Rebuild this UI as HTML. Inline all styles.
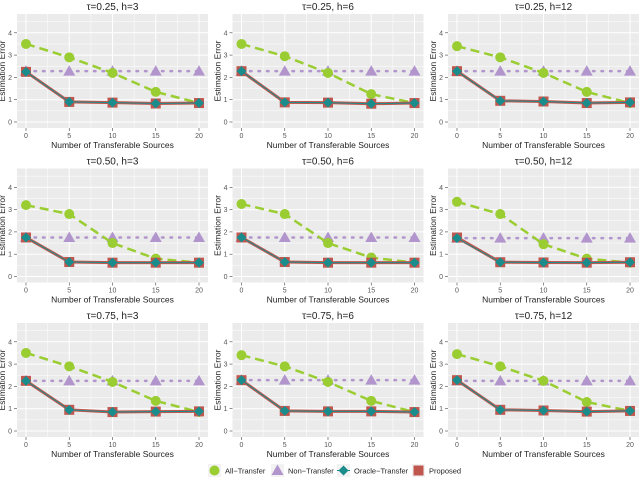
<!DOCTYPE html>
<html><head><meta charset="utf-8"><style>
body{margin:0;background:#fff;width:640px;height:479px;overflow:hidden;font-family:"Liberation Sans",sans-serif}
</style></head><body>
<svg id="c" width="640" height="479" xmlns="http://www.w3.org/2000/svg"></svg>
<script>
const xs=[0,5,10,15,20];
const titles=["τ=0.25, h=3","τ=0.25, h=6","τ=0.25, h=12","τ=0.50, h=3","τ=0.50, h=6","τ=0.50, h=12","τ=0.75, h=3","τ=0.75, h=6","τ=0.75, h=12"];
const allT=[[3.5,2.9,2.2,1.35,0.85],[3.5,2.95,2.2,1.25,0.85],[3.4,2.9,2.2,1.35,0.85],
[3.2,2.8,1.5,0.8,0.62],[3.25,2.8,1.5,0.85,0.62],[3.35,2.8,1.45,0.8,0.62],
[3.5,2.9,2.2,1.35,0.85],[3.4,2.9,2.2,1.35,0.85],[3.45,2.9,2.25,1.3,0.9]];
const nonT=[2.28,2.28,2.28,1.75,1.75,1.72,2.25,2.28,2.25];
const oracle=[[2.25,0.9,0.87,0.83,0.85],[2.28,0.88,0.87,0.82,0.85],[2.28,0.95,0.92,0.85,0.88],
[1.75,0.65,0.62,0.62,0.62],[1.75,0.65,0.62,0.62,0.62],[1.72,0.64,0.63,0.62,0.64],
[2.25,0.95,0.85,0.87,0.88],[2.28,0.9,0.88,0.88,0.85],[2.28,0.95,0.92,0.87,0.9]];
const proposed=[[2.25,0.9,0.87,0.83,0.85],[2.28,0.88,0.87,0.82,0.85],[2.28,0.95,0.92,0.85,0.88],
[1.75,0.65,0.62,0.62,0.62],[1.75,0.65,0.62,0.62,0.62],[1.75,0.64,0.63,0.62,0.64],
[2.25,0.95,0.85,0.87,0.88],[2.28,0.9,0.88,0.88,0.85],[2.28,0.95,0.92,0.87,0.9]];
const yTicks=[0,1,2,3,4];
const svg=document.getElementById('c');
const NS='http://www.w3.org/2000/svg';
function mk(t,a,p){const e=document.createElementNS(NS,t);for(const k in a)e.setAttribute(k,a[k]);(p||svg).appendChild(e);return e;}
const G='#9ACD32',P='#B195CC',O='#1A8C8C',R='#C0574E';
for(let i=0;i<9;i++){
 const col=i%3,row=Math.floor(i/3);
 const ox=col*215.5, oy=row*154.5;
 const L=17+ox,Rr=208+ox,T=14+oy,B=128+oy;
 const X=v=>26+ox+v*(173/20);
 const Y=v=>122+oy-v*22.3;
 const g=mk('g',{});
 
 
 mk('rect',{x:L,y:T,width:Rr-L,height:B-T,fill:'#EBEBEB'},g);
 for(let v=0.5;v<4.8;v+=1)mk('line',{x1:L,x2:Rr,y1:Y(v),y2:Y(v),stroke:'#fff','stroke-width':0.5},g);
 for(let v=2.5;v<20;v+=5)mk('line',{x1:X(v),x2:X(v),y1:T,y2:B,stroke:'#fff','stroke-width':0.5},g);
 yTicks.forEach(v=>{mk('line',{x1:L,x2:Rr,y1:Y(v),y2:Y(v),stroke:'#fff','stroke-width':1},g);
  mk('line',{x1:L-3,x2:L,y1:Y(v),y2:Y(v),stroke:'#444','stroke-width':0.6},g);
  const t=mk('text',{x:L-5,y:Y(v)+2.5,'font-size':7,fill:'#555','text-anchor':'end'},g);t.textContent=v;});
 xs.forEach(v=>{mk('line',{x1:X(v),x2:X(v),y1:T,y2:B,stroke:'#fff','stroke-width':1},g);
  mk('line',{x1:X(v),x2:X(v),y1:B,y2:B+3,stroke:'#444','stroke-width':0.6},g);
  const t=mk('text',{x:X(v),y:B+10,'font-size':7,fill:'#555','text-anchor':'middle'},g);t.textContent=v;});
 const tt=mk('text',{x:(L+Rr)/2,y:T-4,'font-size':10,fill:'#222','text-anchor':'middle'},g);tt.textContent=titles[i];
 
 const xl=mk('text',{x:(L+Rr)/2,y:B+20,'font-size':8.5,fill:'#222','text-anchor':'middle'},g);xl.textContent='Number of Transferable Sources';
 
 const yl=mk('text',{x:0,y:0,'font-size':8.5,fill:'#222','text-anchor':'middle',transform:`translate(${L-12},${(T+B)/2}) rotate(-90)`},g);yl.textContent='Estimation Error';
 
 const pts=a=>a.map((v,j)=>X(xs[j])+','+Y(v)).join(' ');
 // non-transfer
 mk('line',{x1:X(0),x2:X(20),y1:Y(nonT[i]),y2:Y(nonT[i]),stroke:P,'stroke-width':2.5,'stroke-dasharray':'1.5 7','stroke-linecap':'round'},g);
 xs.forEach(x=>{const cx=X(x),cy=Y(nonT[i]);const m=mk('polygon',{points:`${cx},${cy-6} ${cx-6},${cy+4.5} ${cx+6},${cy+4.5}`,fill:P},g);
  });
 // all-transfer
 mk('polyline',{points:pts(allT[i]),fill:'none',stroke:G,'stroke-width':2.5,'stroke-dasharray':'9 5'},g);
 allT[i].forEach((v,j)=>{const m=mk('circle',{cx:X(xs[j]),cy:Y(v),r:5,fill:G},g);
  });
 // proposed
 mk('polyline',{points:pts(proposed[i]),fill:'none',stroke:R,'stroke-width':3},g);
 proposed[i].forEach((v,j)=>{const m=mk('rect',{x:X(xs[j])-5,y:Y(v)-5,width:10,height:10,fill:R},g);
  });
 // oracle
 mk('polyline',{points:pts(oracle[i]),fill:'none',stroke:O,'stroke-width':1},g);
 oracle[i].forEach((v,j)=>{const cx=X(xs[j]),cy=Y(v);const m=mk('polygon',{points:`${cx},${cy-5} ${cx+5},${cy} ${cx},${cy+5} ${cx-5},${cy}`,fill:O},g);
  });
}
</script>
<svg style="position:absolute;left:0;top:458px" width="640" height="21">
 <g><rect x="208" y="6" width="13" height="13" fill="#F2F2F2"/><circle cx="214.5" cy="12.5" r="5" fill="#9ACD32"/><text x="225" y="15.5" font-size="7.5" fill="#222">All−Transfer</text></g>
 <g><rect x="271" y="6" width="13" height="13" fill="#F2F2F2"/><polygon points="277.5,6.5 271.5,17 283.5,17" fill="#B195CC"/><text x="288" y="15.5" font-size="7.5" fill="#222">Non−Transfer</text></g>
 <g><rect x="337" y="6" width="13" height="13" fill="#F2F2F2"/><line x1="337" x2="350" y1="12.5" y2="12.5" stroke="#1A8C8C"/><polygon points="343.5,7.5 348.5,12.5 343.5,17.5 338.5,12.5" fill="#1A8C8C"/><text x="354" y="15.5" font-size="7.5" fill="#222">Oracle−Transfer</text></g>
 <g><rect x="412" y="6" width="13" height="13" fill="#F2F2F2"/><rect x="413.5" y="7.5" width="10" height="10" fill="#C0574E"/><text x="429" y="15.5" font-size="7.5" fill="#222">Proposed</text></g>
</svg>
</body></html>
